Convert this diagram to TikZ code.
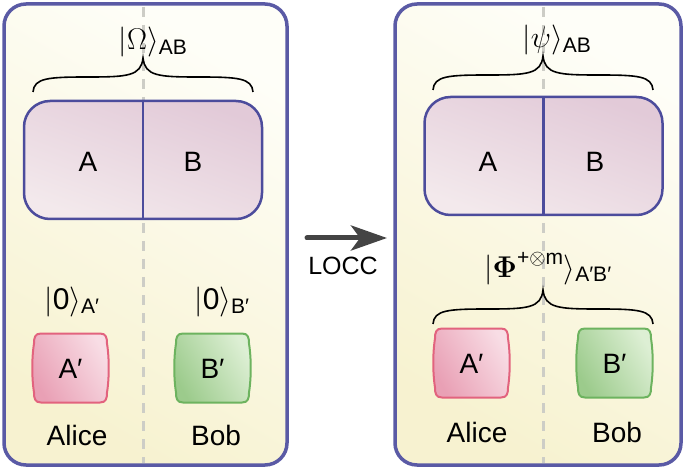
\RequirePackage{fix-cm}
\documentclass[tikz,border=0pt]{standalone}
\usepackage{amsmath}
\usepackage{amssymb}
\usepackage[no-math]{fontspec}
\setmainfont{Liberation Sans}
\usetikzlibrary{arrows.meta}
\definecolor{panelborder}{HTML}{5A5AA5}
\definecolor{paneltop}{HTML}{FEFEF8}
\definecolor{panelbot}{HTML}{F7F2D0}
\definecolor{abborder}{HTML}{4C4C9C}
\definecolor{abdark}{HTML}{E2CAD8}
\definecolor{ablight}{HTML}{F3E9EC}
\definecolor{pinkborder}{HTML}{E2637E}
\definecolor{pinkdark}{HTML}{E9A0B5}
\definecolor{pinklight}{HTML}{F8DDE5}
\definecolor{greenborder}{HTML}{6DB35F}
\definecolor{greendark}{HTML}{9CCB8C}
\definecolor{greenlight}{HTML}{DDEFD4}
\definecolor{dashgray}{HTML}{CDCDC6}
\definecolor{arrowgray}{HTML}{444444}
\tikzset{
  panel/.style={draw=panelborder, line width=3.5pt, rounded corners=22pt,
    top color=paneltop, bottom color=panelbot, shading angle=-30,
    inner sep=0pt, outer sep=0pt},
  abbox/.style={draw=abborder, line width=2.5pt, rounded corners=26pt,
    top color=ablight, bottom color=abdark, shading angle=160,
    minimum width=238pt, minimum height=118pt, inner sep=0pt, outer sep=0pt},
  abline/.style={draw=abborder, line width=2.5pt},
  divider/.style={draw=dashgray, line width=3pt, dash pattern=on 10pt off 8pt},
  bigtxt/.style={font=\fontsize{28}{32}\selectfont, anchor=base, inner sep=0pt},
  lbltxt/.style={font=\fontsize{30}{34}\selectfont, anchor=base, inner sep=0pt},
  lcctxt/.style={font=\fontsize{25}{30}\selectfont, anchor=base, inner sep=0pt},
  bracepath/.style={draw=black, line width=1.6pt},
  pinkbox/.style={draw=pinkborder, line width=2pt, left color=pinkdark, right color=pinklight, shading angle=120},
  greenbox/.style={draw=greenborder, line width=2pt, left color=greendark, right color=greenlight, shading angle=120},
  loccarrow/.style={draw=arrowgray, line width=5pt, line cap=round,
    -{Stealth[length=36pt, width=25pt, inset=9pt]}},
  barrel/.pic={
    \path[pic actions] (-29.5,-34.5) -- (29.5,-34.5)
      .. controls (35.5,-34.5) and (36.5,-30.5) .. (36.5,-24.5)
      .. controls (38.8,-10) and (38.8,10) .. (36.5,24.5)
      .. controls (36.5,30.5) and (35.5,34.5) .. (29.5,34.5)
      -- (-29.5,34.5)
      .. controls (-35.5,34.5) and (-36.5,30.5) .. (-36.5,24.5)
      .. controls (-38.8,10) and (-38.8,-10) .. (-36.5,-24.5)
      .. controls (-36.5,-30.5) and (-35.5,-34.5) .. (-29.5,-34.5) -- cycle;
  },
  curly/.pic={
    \path[pic actions] (-110,34) .. controls (-109,20) and (-95,19) .. (-55,19)
      .. controls (-15,19) and (-2,18) .. (0,0)
      .. controls (2,18) and (15,19) .. (55,19)
      .. controls (95,19) and (109,20) .. (110,34);
  }
}
\begin{document}
\begin{tikzpicture}[x=1pt,y=-1pt]
\useasboundingbox (0,0) rectangle (685,470);
% panels
\node[panel, minimum width=283pt, minimum height=461pt] (PL) at (145.5,234.5) {};
\node[panel, minimum width=286pt, minimum height=461pt] (PR) at (538,234.5) {};
% dashed dividers
\coordinate (dLt) at (143,7);
\coordinate (dLb) at (143,463);
\coordinate (dRt) at (543,7);
\coordinate (dRb) at (543,463);
\draw[divider] (dLt) -- (dLb);
\draw[divider] (dRt) -- (dRb);
% AB boxes
\node[abbox] (abL) at (143,160) {};
\draw[abline] (abL.north) -- (abL.south);
\node[bigtxt] (aL) at (88,172) {A};
\node[bigtxt] (bL) at (193,172) {B};
\node[abbox] (abR) at (543.5,156) {};
\draw[abline] (abR.north) -- (abR.south);
\node[bigtxt] (aR) at (488,172) {A};
\node[bigtxt] (bR) at (595,172) {B};
% braces
\pic[bracepath] at (143,58) {curly};
\pic[bracepath] at (543,56) {curly};
\pic[bracepath] at (543,290) {curly};
% labels
\node[lbltxt] (omega) at (153,50) {$|\Omega\rangle_{\text{AB}}$};
\node[lbltxt] (psi) at (557,48) {$|\psi\rangle_{\text{AB}}$};
\node[lbltxt] (phi) at (548,277) {$|\boldsymbol{\Phi}^{\text{+}\otimes\text{m}}\rangle_{\text{A′B′}}$};
\node[lbltxt] (zA) at (72,309) {$|\text{0}\rangle_{\text{A′}}$};
\node[lbltxt] (zB) at (222,309) {$|\text{0}\rangle_{\text{B′}}$};
% small boxes
\pic[pinkbox] at (70.5,368) {barrel};
\node[bigtxt] (apL) at (70.5,378) {A′};
\pic[greenbox] at (212.5,368) {barrel};
\node[bigtxt] (bpL) at (212.5,378) {B′};
\pic[pinkbox] at (471.5,363) {barrel};
\node[bigtxt] (apR) at (471.5,373) {A′};
\pic[greenbox] at (614.5,363) {barrel};
\node[bigtxt] (bpR) at (614.5,373) {B′};
% names
\node[bigtxt] (aliceL) at (77,445) {Alice};
\node[bigtxt] (bobL) at (216,445) {Bob};
\node[bigtxt] (aliceR) at (477,442) {Alice};
\node[bigtxt] (bobR) at (617,442) {Bob};
% arrow
\coordinate (arrS) at (307,238);
\coordinate (arrE) at (387,238);
\draw[loccarrow] (arrS) -- (arrE);
\node[lcctxt] (locc) at (343,275) {LOCC};
\end{tikzpicture}
\end{document}
